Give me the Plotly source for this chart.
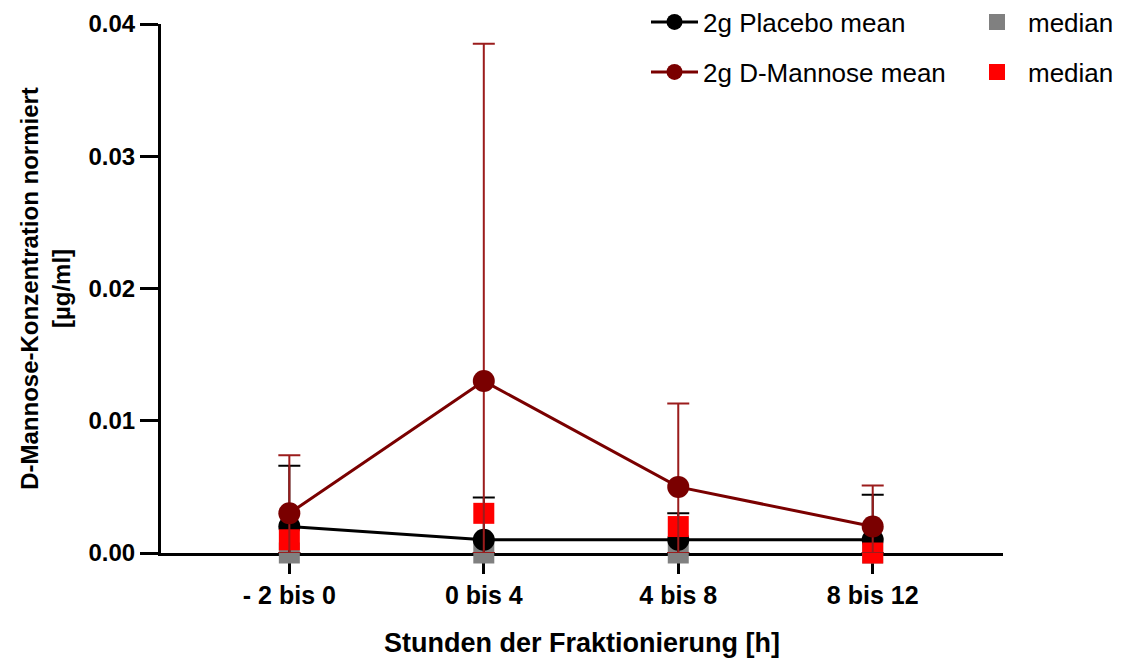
import plotly.graph_objects as go

# Sampling windows (hours relative to dosing)
categories = ["- 2 bis 0", "0 bis 4", "4 bis 8", "8 bis 12"]

# Normalised D-mannose concentration [µg/ml]
placebo_mean = [0.002, 0.001, 0.001, 0.001]
placebo_sd = [0.0046, 0.0032, 0.0020, 0.0034]
placebo_median = [0.0, 0.0, 0.0, 0.0]

mannose_mean = [0.003, 0.013, 0.005, 0.002]
mannose_sd = [0.0044, 0.0255, 0.0063, 0.0031]
mannose_median = [0.001, 0.003, 0.002, 0.0]

x = list(range(len(categories)))

BLACK = "#000000"
DARKRED = "#7a0000"
ERR_RED = "#9b1c1c"
GREY = "#808080"
RED = "#ff0000"
FONT = "Liberation Sans, Arial, sans-serif"
W, H = 1126, 660


def lower_err(mean, sd):
    # error bars stop at the zero baseline
    return [min(m, s) for m, s in zip(mean, sd)]


fig = go.Figure()

fig.add_trace(go.Scatter(
    x=x, y=placebo_median, mode="markers", name="median",
    marker=dict(symbol="square", size=21, color=GREY),
    cliponaxis=False, legend="legend2",
))
fig.add_trace(go.Scatter(
    x=x, y=placebo_mean, mode="lines+markers", name="2g Placebo mean",
    line=dict(color=BLACK, width=3),
    marker=dict(symbol="circle", size=22, color=BLACK),
    error_y=dict(type="data", array=placebo_sd,
                 arrayminus=lower_err(placebo_mean, placebo_sd),
                 color=BLACK, thickness=2, width=11),
    cliponaxis=False, legend="legend",
))
fig.add_trace(go.Scatter(
    x=x, y=mannose_median, mode="markers", name="median",
    marker=dict(symbol="square", size=21, color=RED),
    cliponaxis=False, legend="legend4",
))
fig.add_trace(go.Scatter(
    x=x, y=mannose_mean, mode="lines+markers", name="2g D-Mannose mean",
    line=dict(color=DARKRED, width=3),
    marker=dict(symbol="circle", size=22, color=DARKRED),
    error_y=dict(type="data", array=mannose_sd,
                 arrayminus=lower_err(mannose_mean, mannose_sd),
                 color=ERR_RED, thickness=2, width=11),
    cliponaxis=False, legend="legend3",
))


def legend_at(px, py, itemwidth):
    # legend box placed in container pixels
    return dict(
        x=px / W, y=1 - py / H, xref="container", yref="container",
        xanchor="left", yanchor="middle", itemwidth=itemwidth,
        font=dict(family=FONT, size=26, color="black"),
        bgcolor="rgba(0,0,0,0)", borderwidth=0,
    )


fig.update_layout(
    width=W, height=H,
    margin=dict(l=161, r=123, t=24, b=107, autoexpand=False),
    plot_bgcolor="white", paper_bgcolor="white",
    font=dict(family=FONT, color="black"),
    showlegend=True,
    legend=legend_at(646, 22, 47),
    legend3=legend_at(646, 72, 47),
    legend2=legend_at(966, 22, 52),
    legend4=legend_at(966, 72, 52),
    xaxis=dict(
        range=[-0.66, 3.67],
        tickmode="array", tickvals=x, ticktext=categories,
        showline=True, linecolor="black", linewidth=3,
        ticks="outside", ticklen=18, tickwidth=3, tickcolor="black",
        showgrid=False, zeroline=False, layer="below traces",
        tickfont=dict(family=FONT, size=25, color="black", weight="bold"),
        title=dict(text="<b>Stunden der Fraktionierung [h]</b>",
                   font=dict(family=FONT, size=27, color="black"),
                   standoff=26),
    ),
    yaxis=dict(
        range=[0, 0.04],
        tickmode="array", tickvals=[0, 0.01, 0.02, 0.03, 0.04],
        ticktext=["0.00", "0.01", "0.02", "0.03", "0.04"],
        showline=True, linecolor="black", linewidth=3,
        ticks="outside", ticklen=18, tickwidth=3, tickcolor="black",
        showgrid=False, zeroline=False, layer="below traces",
        tickfont=dict(family=FONT, size=24, color="black", weight="bold"),
        title=dict(text="<b>D-Mannose-Konzentration normiert<br>[µg/ml]</b>",
                   font=dict(family=FONT, size=24, color="black"),
                   standoff=12),
    ),
)

fig.write_html("out.html")
